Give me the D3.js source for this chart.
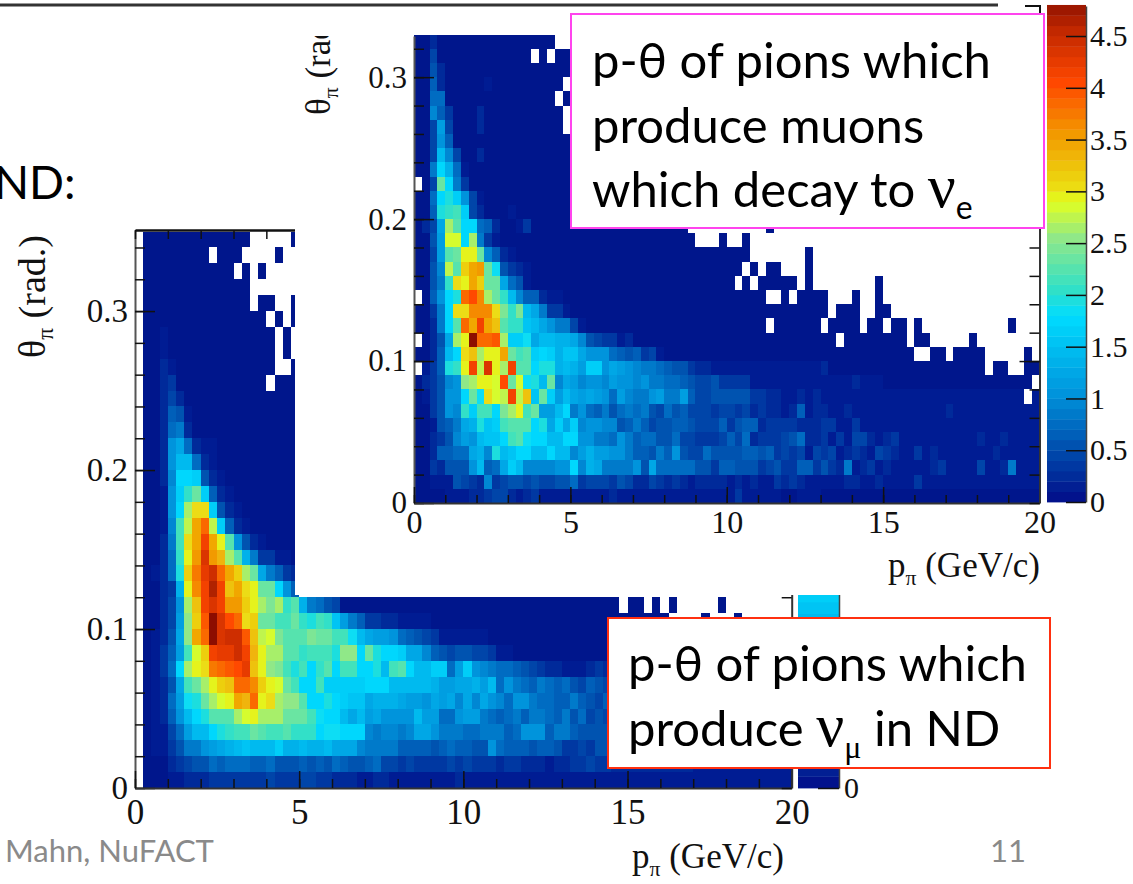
<!DOCTYPE html>
<meta charset="utf-8">
<style>
body { margin: 0; background: #fff; }
svg { display: block; }
.num { font-family: "Liberation Serif", serif; fill: #111; }
.num text { font-family: "Liberation Serif", serif; fill: #111; }
.slide { font-family: Lato, "Open Sans", sans-serif; }
</style>
<body>
<script src="https://d3js.org/d3.v7.min.js"></script>
<script>

// each char is one bin, value = index in codes / 10, "." is an empty bin
// rows go bottom to top, columns are 0.25 GeV wide, rows 0.01 rad high
var codes = "0123456789abcdefghijklmnopqrstuvwxyzABCDEFGHIJKLM";

// pions -> muons -> nu_e (upper plot)
var upperRows = [
  "0000111223 4421231111 1111121111 1111111111 1311111001 1100000000 0000000000 0000000000",
  "0011154329 3455454455 7344435422 4323212222 1212113232 1111122112 1111311111 1111111111",
  "0032555ae6 7cge9999aa h9dc8888a5 c777775536 6555345336 6353281231 2111112311 1141128111",
  "0026677cd9 jefhheehee 9bdbbaa866 586a544755 5566563434 1434123214 3211312111 1111211111",
  "002359baef fhlmihheeh haa887a867 7557443334 6472333457 2231314421 2311111111 1121121111",
  "001568cdjf glmmmhjcgc g9aa995686 4556654446 3566233332 2233113111 1111111111 1111111111",
  "0035a9kgll hoqtlnbbeh 8a76857878 5475644434 4342322126 1221121111 1111111121 1111111111",
  "0135aahniu srFrwfngbe cbcba7b988 ab88b64455 5553322112 1211111111 1111111111 11111111.1",
  "02359apqtt sEnsijen9c b9aa9baa9a 8877654453 3331111111 1111112111 0000000000 000000000.",
  ".136jktFrH tqFmmhjjde dbggacba98 8765532211 1111111111 1120000000 0000000000 000.00..00",
  "0026ehuwqt tynlmghgdf fcaaa76563 4100000000 0000000000 0000000000 0000..00.0 000.....0.",
  ".025cqtMCC Dqggiceedd c954331200 0000000000 0000000000 0000.00000 000.00.... .0........",
  "0028hmCyFy wmkkfeca88 4100000000 0000000000 00000.0000 00.0000.00 .00.0..... ......0...",
  "0038huuAAA uokoec8331 0000000000 0000000000 0000000000 000.000..0 0",
  ".06ahjCEAq nke9662110 0000000000 0000000000 00000..0.0 000...0..0",
  "0058kutyvn nc75100000 0000000000 0000000000 0.0.00000. 0........0",
  "0059rmvyzn i532100000 0000000000 0000000000 00.0.00... 0",
  "004bmnttn9 6210000000 0000000000 0000000000 000....... 0",
  "005bsshq83 1000000000 0000000000 000000...0 ..0",
  "024cqmhh76 2001300000 0000000000 00000..... .....0",
  "006jklg420 0010000000",
  "007hjga410 0000000000",
  ".04nh83000 0000000000",
  "008hd71000 0000000000",
  "004e940020 0000000000",
  "004a600000 0000000000",
  "004b400020 000000000.",
  "0096300020 000000000.",
  "0077000000 00000000.0",
  "0062000001 000000000.",
  "0052000000 0000000000",
  "0040000000 00000.0.00",
  "0020000000 00000000.."
];

// pions -> nu_mu in ND (lower plot)
var lowerRows = [
  ".000112223 3333334333 4433222112 2111111112 1111111111 1111111111 1111111111 1111111111",
  ".000234557 6777667555 6565765567 4434333343 4333233222 1223343322 2222222211 1111111111",
  ".0113588ab cdefeeegdd eddeccc988 8866665676 655a766656 65334355",
  ".01147beeh jkllnmllmk kkhiihhh98 9989cca888 7788867aaa 68865555",
  ".0126aehjm mmqstqqqnn nlihhecebc aaaaebb77a bb87678688 76857454",
  ".0127bijnq styxCtuqpp mhhjhgffcd ddcbbacbc9 c9ca97aa87 76686546",
  ".0125clnqt vwCCAvtsnl hhlggggghh heeeeedbbc cdbe7a8768 76754654",
  ".0137hqtuB CDEGwtpolj lhkmhllhhj elmheegg7b ga98776543 22111232",
  ".0136blsvF GGIFxtqqmm kllljpphnj hhgcc96545 5443110000 00000000",
  ".0125cpyCM HIIDwrsomm monnlliecb ba76543111 1110000000 00000000",
  ".0024bpvDM HECuvnnlln kjlkfb8633 2211110000 0000000000 0000000000 00000....0 ...0......",
  ".0024aqwFH Fzzvtqoqkm d875400000 0000000000 0000000000 000000000. 00.0.0.... .0........",
  ".0023dtAFK Fwyutnnha6",
  ".0127jvBGI Cyvqnc8632",
  ".0027ktzHz xqmd833110",
  ".0028luyFy tma5210000",
  ".0019lryCr g621000000",
  ".001ahquug 5210000000",
  ".001agkng6 2100000000",
  ".0029hhg52 1000000000",
  ".002aee721 0000000000",
  ".002ac7211 0000000000",
  ".002782000 0000000000",
  ".002651000 0000000000",
  ".002420000 0000000000",
  ".002300000 000000.000",
  ".002100000 0000000..0",
  ".001000000 0000000.0.",
  ".001000000 0000000.0.",
  ".000000000 000000.0.0",
  ".000000000 0000.00..0",
  ".000000000 0000......",
  ".000000000 00.0.0....",
  ".00000000. 000....0..",
  ".000000000 0000.....0"
];

var xLabels = [0, 5, 10, 15, 20];
var yLabels = [0, 0.1, 0.2, 0.3];
var barLabels = [0, 0.5, 1, 1.5, 2, 2.5, 3, 3.5, 4, 4.5];
var colorStops = [0, 0.5, 1, 1.5, 1.75, 2, 2.5, 2.85, 3, 3.5, 4, 4.5, 4.8];
var colorValues = ["#02128c", "#0052b0", "#0094dc", "#00c4f4", "#00dcff", "#30e0c8", "#90e888",
                   "#e2ff20", "#ecdc12", "#f29a00", "#ff4800", "#c22800", "#8c1000"];

var color = d3.scaleLinear().domain(colorStops).range(colorValues);

var svg = d3.select("body").append("svg").attr("width", 1133).attr("height", 884);
var defs = svg.append("defs");
defs.append("filter").attr("id", "soft")
    .attr("x", "-5%").attr("y", "-5%").attr("width", "110%").attr("height", "110%")
  .append("feGaussianBlur").attr("stdDeviation", 0.7);
defs.append("clipPath").attr("id", "upperTitleClip")
  .append("rect").attr("x", 295).attr("y", 36).attr("width", 60).attr("height", 100);

// decode the row strings into bins
function toCells(rows) {
  var cells = [];
  rows.forEach(function(row, r) {
    row.replace(/ /g, "").split("").forEach(function(c, i) {
      if (c != ".") cells.push({col: i, row: r, value: codes.indexOf(c) / 10});
    });
  });
  return cells;
}

function plain(d) { return d; }

function drawAxis(g, axis, major, minor, size, opts) {
  // minor ticks
  g.append("g").attr("transform", opts.at)
      .call(axis.tickValues(minor).tickSize(size[1]).tickSizeOuter(0).tickFormat(""))
      .call(function(a) { a.selectAll("line").attr("stroke", "#111").attr("stroke-width", 1.5); })
      .call(function(a) { a.select(".domain").attr("stroke", opts.line || "#333").attr("stroke-width", 2); });
  // major ticks, with labels when wanted
  var m = g.append("g").attr("class", "num").attr("transform", opts.at)
      .call(axis.tickValues(major).tickSize(size[0]).tickSizeOuter(0).tickPadding(opts.pad || 3)
                .tickFormat(opts.labels ? plain : ""));
  m.select(".domain").remove();
  m.selectAll("line").attr("stroke", "#111").attr("stroke-width", 1.5);
  m.selectAll("text").attr("font-size", opts.font).attr("fill", "#111").attr("font-family", "Liberation Serif");
}

function drawPlot(p) {
  var x = d3.scaleLinear().domain([0, 20]).range([p.left, p.right]);
  var y = d3.scaleLinear().domain([0, p.yMax]).range([p.bottom, p.top]);
  var g = svg.append("g");

  // no antialiasing on the bins, the blur softens them afterwards
  g.append("g").attr("filter", "url(#soft)").attr("shape-rendering", "crispEdges")
    .selectAll("rect")
    .data(toCells(p.rows))
    .enter().append("rect")
      .attr("x", function(d) { return x(d.col * 0.25); })
      .attr("y", function(d) { return y((d.row + 1) * 0.01); })
      .attr("width", x(0.25) - x(0))
      .attr("height", y(0) - y(0.01))
      .attr("fill", function(d) { return color(d.value); });

  var xMinor = d3.range(0, 21, 1), yMinor = d3.range(0, p.yMax + 0.001, 0.02);
  drawAxis(g, d3.axisLeft(y), yLabels, yMinor, [-20, -10],
           {at: "translate(" + p.left + ",0)", labels: true, font: p.yFont, pad: 7, line: "#555"});
  drawAxis(g, d3.axisBottom(x), xLabels, xMinor, [-p.xMajor, -p.xMinor],
           {at: "translate(0," + p.bottom + ")", labels: true, font: p.xFont, pad: p.xPad});
  drawAxis(g, d3.axisRight(y), [0.1, 0.2, 0.3].filter(function(v) { return v < p.yMax; }), yMinor, [-20, -10],
           {at: "translate(" + p.right + ",0)", font: p.xFont});
  return {x: x, y: y, g: g};
}

// title with a small pi or theta subscript
function subText(sel, head, sub, tail, size) {
  sel.append("tspan").text(head);
  sel.append("tspan").attr("font-size", size * 0.62).attr("dy", size * 0.22).text(sub);
  sel.append("tspan").attr("dy", -size * 0.22).text(tail);
}

// lower plot goes first, the upper one sits on top of it
var lower = drawPlot({rows: lowerRows, left: 135, right: 791.7, bottom: 788, top: 230, yMax: 0.351,
                      yFont: 33, xFont: 35, xMajor: 17, xMinor: 9, xPad: 11});
// top axis of the lower plot
lower.g.append("g").attr("transform", "translate(0,230)")
    .call(d3.axisTop(lower.x).tickValues(d3.range(0, 21, 1)).tickSize(-9).tickSizeOuter(0).tickFormat(""))
    .call(function(a) {
      a.selectAll("line").attr("stroke", "#111").attr("stroke-width", 1.5);
      a.select(".domain").attr("stroke", "#111").attr("stroke-width", 2.5);
    });

// lower colour scale, only its ends show
var lowerBar = d3.scaleLinear().domain([0, 4.8]).range([788, 230]);
svg.append("g").selectAll("rect").data(d3.range(0, 4.8, 0.1)).enter().append("rect")
    .attr("x", 798).attr("width", 41)
    .attr("y", function(d) { return lowerBar(d + 0.1); })
    .attr("height", lowerBar(0) - lowerBar(0.1) + 0.4)
    .attr("fill", function(d) { return color(d); });
svg.append("g").attr("class", "num").attr("transform", "translate(839,0)")
    .call(d3.axisRight(lowerBar).tickValues([0]).tickSize(-21).tickSizeOuter(0).tickPadding(5).tickFormat(plain))
    .call(function(a) {
      a.selectAll("line").attr("stroke", "#111").attr("stroke-width", 1.5);
      a.select(".domain").attr("stroke", "#444").attr("stroke-width", 1.5);
      a.selectAll("text").attr("font-size", 30).attr("font-family", "Liberation Serif").attr("fill", "#111");
    });

svg.append("text").attr("class", "num").attr("x", 632).attr("y", 868).attr("font-size", 35)
    .call(subText, "p", "π", " (GeV/c)", 35);
svg.append("text").attr("class", "num").attr("transform", "translate(45,358) rotate(-90)").attr("font-size", 38)
    .call(subText, "θ", "π", " (rad.)", 38);

// white panel of the upper plot covers the lower one
svg.append("rect").attr("x", 295).attr("y", 0).attr("width", 838).attr("height", 595).attr("fill", "#fff");

var upper = drawPlot({rows: upperRows, left: 414, right: 1039.5, bottom: 503, top: 36, yMax: 0.329,
                      yFont: 31, xFont: 32, xMajor: 16, xMinor: 8, xPad: 7});

svg.append("text").attr("class", "num").attr("x", 888).attr("y", 577).attr("font-size", 35)
    .call(subText, "p", "π", " (GeV/c)", 35);
svg.append("g").attr("clip-path", "url(#upperTitleClip)")
  .append("text").attr("class", "num").attr("transform", "translate(330,115) rotate(-90)").attr("font-size", 35)
    .call(subText, "θ", "π", " (rad.)", 35);

// upper colour scale
var barY = d3.scaleLinear().domain([0, 4.79]).range([502, 6]);
svg.append("g").selectAll("rect").data(d3.range(0, 4.79, 0.1)).enter().append("rect")
    .attr("x", 1047).attr("width", 39)
    .attr("y", function(d) { return barY(d + 0.1); })
    .attr("height", barY(0) - barY(0.1) + 0.4)
    .attr("fill", function(d) { return color(d); });
svg.append("g").attr("class", "num").attr("transform", "translate(1086,0)")
    .call(d3.axisRight(barY).tickValues(barLabels).tickSize(-20).tickSizeOuter(0).tickPadding(4).tickFormat(plain))
    .call(function(a) {
      a.selectAll("line").attr("stroke", "#111").attr("stroke-width", 1.5);
      a.select(".domain").attr("stroke", "#444").attr("stroke-width", 1.5);
      a.selectAll("text").attr("font-size", 30).attr("font-family", "Liberation Serif").attr("fill", "#111");
    });

// slide furniture
svg.append("line").attr("x1", 0).attr("x2", 998).attr("y1", 5).attr("y2", 5)
    .attr("stroke", "#333").attr("stroke-width", 3);
svg.append("path").attr("d", "M1025,6H1040V40").attr("fill", "none").attr("stroke", "#111").attr("stroke-width", 2);

svg.append("text").attr("class", "slide").attr("x", -6).attr("y", 199).attr("font-size", 46).attr("fill", "#000").text("ND:");
svg.append("text").attr("class", "slide").attr("x", 5).attr("y", 862).attr("font-size", 31).attr("fill", "#8a8a8a").text("Mahn, NuFACT");
svg.append("text").attr("class", "slide").attr("x", 990).attr("y", 862).attr("font-size", 31).attr("fill", "#8a8a8a").text("11");

// call-out boxes
svg.append("rect").attr("x", 571).attr("y", 14).attr("width", 473).attr("height", 214)
    .attr("fill", "#fff").attr("stroke", "#ff44ee").attr("stroke-width", 2);
svg.append("rect").attr("x", 608).attr("y", 618).attr("width", 442).attr("height", 150)
    .attr("fill", "#fff").attr("stroke", "#ff3010").attr("stroke-width", 2);

function boxLine(x, y, txt) {
  return svg.append("text").attr("class", "slide").attr("x", x).attr("y", y)
      .attr("font-size", 49).attr("fill", "#000").text(txt);
}
function greek(sel, nu, sub) {
  sel.append("tspan").attr("font-family", "Liberation Serif").attr("font-size", 62).text(nu);
  sel.append("tspan").attr("font-size", 32).attr("dy", 12).attr("font-family", sub == "μ" ? "Liberation Serif" : null).text(sub);
}
boxLine(592, 78, "p-θ of pions which");
boxLine(592, 143, "produce muons");
boxLine(592, 207, "which decay to ").call(greek, "ν", "e");
boxLine(628, 681, "p-θ of pions which");
var l2 = boxLine(628, 746, "produce ").call(greek, "ν", "μ");
l2.append("tspan").attr("dy", -12).text(" in ND");

</script>
</body>
